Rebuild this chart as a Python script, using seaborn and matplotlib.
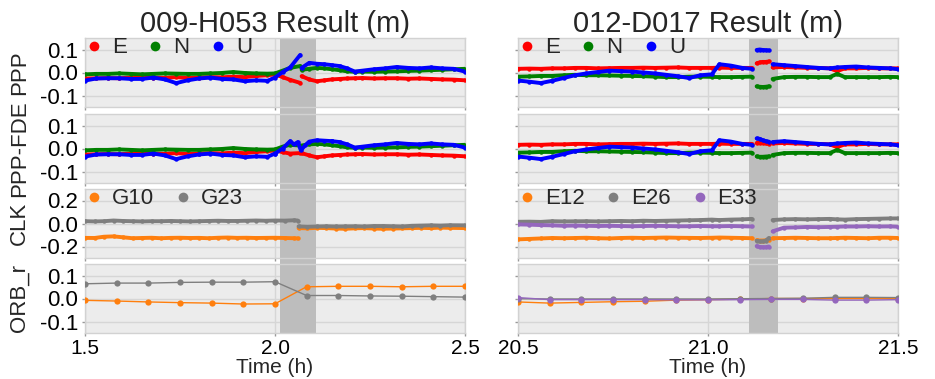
import numpy as np
import pandas as pd
import matplotlib
matplotlib.use("Agg")
import matplotlib.pyplot as plt
import seaborn as sns
from matplotlib.lines import Line2D

# ---------------- data ----------------
titles = ["009-H053 Result (m)", "012-D017 Result (m)"]
row_labels = ["PPP", "PPP-FDE", "CLK", "ORB_r"]
fault_spans = [(2.013, 2.108), (21.107, 21.184)]
xlims = [(1.5, 2.5), (20.5, 21.5)]
xticks = [[1.5, 2.0, 2.5], [20.5, 21.0, 21.5]]

# left: station 009-H053
L_T_PRE = [1.50, 1.53, 1.56, 1.59, 1.62, 1.65, 1.68, 1.71, 1.74, 1.77, 1.80,
           1.83, 1.86, 1.89, 1.92, 1.95, 1.98, 2.00, 2.02, 2.04, 2.066]
L_T_POST = [2.07, 2.09, 2.11, 2.13, 2.15, 2.17, 2.19, 2.21, 2.23, 2.26, 2.29,
            2.32, 2.35, 2.38, 2.41, 2.44, 2.47, 2.50]

L_PPP_E_PRE = [-0.026, -0.025, -0.024, -0.025, -0.022, -0.024, -0.022, -0.023, -0.020, -0.024, -0.022,
               -0.020, -0.021, -0.018, -0.020, -0.015, -0.012, -0.008, -0.020, -0.032, -0.045]
L_PPP_E_POST = [-0.016, -0.030, -0.038, -0.034, -0.030, -0.028, -0.026, -0.025, -0.024, -0.026, -0.025,
                -0.025, -0.027, -0.026, -0.028, -0.030, -0.031, -0.034]
L_PPP_N_PRE = [-0.008, -0.006, -0.006, -0.004, -0.006, -0.008, -0.006, -0.004, -0.005, -0.006, -0.006,
               -0.004, -0.002, 0.002, -0.002, -0.004, -0.005, -0.004, 0.008, 0.020, 0.028]
L_PPP_N_POST = [0.012, 0.016, 0.020, 0.018, 0.014, 0.010, 0.005, 0.003, 0.004, 0.003, 0.004,
                0.005, 0.007, 0.008, 0.010, 0.012, 0.014, 0.016]
L_PPP_U_PRE = [-0.035, -0.026, -0.025, -0.025, -0.028, -0.028, -0.022, -0.030, -0.046, -0.034, -0.026,
               -0.022, -0.028, -0.030, -0.038, -0.034, -0.036, -0.022, 0.002, 0.022, 0.076]
L_PPP_U_POST = [0.020, 0.042, 0.038, 0.036, 0.032, 0.028, 0.018, 0.004, 0.008, 0.014, 0.018,
                0.024, 0.020, 0.018, 0.022, 0.018, 0.016, 0.004]

L_FDE_E_PRE = L_PPP_E_PRE[:18] + [-0.016, -0.022, -0.020]
L_FDE_E_POST = [-0.020, -0.030, -0.038] + L_PPP_E_POST[3:]
L_FDE_N_PRE = L_PPP_N_PRE[:18] + [0.008, 0.016, 0.013]
L_FDE_N_POST = [0.013, 0.018] + L_PPP_N_POST[2:]
L_FDE_U_T = [2.00, 2.02, 2.04, 2.05, 2.06, 2.068, 2.08, 2.09, 2.11, 2.13, 2.15]
L_FDE_U_MID = [-0.022, 0.000, 0.032, 0.018, 0.028, -0.008, 0.015, 0.030, 0.036, 0.034, 0.032]

L_CLK_T_PRE = [1.500, 1.525, 1.550, 1.575, 1.600, 1.625, 1.650, 1.675, 1.700, 1.725, 1.750, 1.775,
               1.800, 1.825, 1.850, 1.875, 1.900, 1.925, 1.950, 1.975, 2.000, 2.025, 2.050, 2.060]
L_CLK_T_POST = [2.062, 2.085, 2.110, 2.135, 2.160, 2.185, 2.210, 2.235, 2.260, 2.285, 2.310,
                2.335, 2.360, 2.385, 2.410, 2.435, 2.460, 2.500]
G23_PRE = [0.020, 0.018, 0.020, 0.026, 0.022, 0.020, 0.018, 0.020, 0.020, 0.022, 0.020, 0.018,
           0.020, 0.022, 0.024, 0.022, 0.022, 0.024, 0.026, 0.024, 0.026, 0.025, 0.028, 0.026]
G10_PRE = [-0.125, -0.126, -0.115, -0.112, -0.120, -0.128, -0.126, -0.124, -0.128, -0.125, -0.124, -0.126,
           -0.125, -0.128, -0.124, -0.122, -0.125, -0.124, -0.126, -0.125, -0.124, -0.126, -0.128, -0.130]
G23_POST = [-0.025, -0.028, -0.026, -0.024, -0.026, -0.025, -0.024, -0.026, -0.022, -0.022, -0.024,
            -0.026, -0.020, -0.018, -0.016, -0.018, -0.015, -0.016]
G10_POST = [-0.040, -0.042, -0.038, -0.040, -0.044, -0.046, -0.042, -0.040, -0.044, -0.046, -0.044,
            -0.042, -0.040, -0.038, -0.040, -0.036, -0.038, -0.040]

L_ORB_T = [1.5, 1.583, 1.667, 1.75, 1.833, 1.917, 2.0, 2.083, 2.167, 2.25, 2.333, 2.417, 2.5]
G10_ORB = [-0.008, -0.011, -0.015, -0.018, -0.020, -0.024, -0.023, 0.051, 0.053, 0.053, 0.051, 0.053, 0.053]
G23_ORB = [0.064, 0.067, 0.067, 0.070, 0.071, 0.071, 0.073, 0.013, 0.013, 0.011, 0.010, 0.008, 0.006]

# right: station 012-D017
R_T_PRE = [20.50, 20.53, 20.56, 20.59, 20.62, 20.65, 20.68, 20.71, 20.74, 20.77, 20.80,
           20.83, 20.86, 20.89, 20.92, 20.95, 20.98, 21.01, 21.03, 21.06, 21.09, 21.115]
R_T_MID = [21.128, 21.136, 21.144, 21.152, 21.160]
R_T_POST = [21.17, 21.20, 21.23, 21.26, 21.29, 21.32, 21.34, 21.36, 21.39, 21.42, 21.45, 21.48, 21.50]

R_PPP_E_PRE = [0.016, 0.017, 0.016, 0.018, 0.018, 0.020, 0.020, 0.018, 0.019, 0.020, 0.020,
               0.021, 0.020, 0.021, 0.022, 0.020, 0.020, 0.020, 0.021, 0.020, 0.020, 0.020]
R_PPP_E_MID = [0.040, 0.044, 0.046, 0.046, 0.048]
R_PPP_E_POST = [0.022, 0.024, 0.022, 0.020, 0.020, 0.018, 0.006, 0.018, 0.018, 0.020, 0.018, 0.018, 0.018]
R_PPP_N_PRE = [-0.018, -0.017, -0.015, -0.015, -0.012, -0.010, -0.012, -0.012, -0.013, -0.014, -0.015,
               -0.016, -0.018, -0.020, -0.020, -0.018, -0.018, -0.019, -0.020, -0.020, -0.019, -0.018]
R_PPP_N_MID = [-0.060, -0.062, -0.063, -0.062, -0.060]
R_PPP_N_POST = [-0.028, -0.020, -0.019, -0.019, -0.020, -0.020, -0.006, -0.020, -0.020, -0.020, -0.020, -0.019, -0.020]
R_PPP_U_PRE = [-0.035, -0.040, -0.046, -0.036, -0.024, -0.012, -0.004, 0.002, 0.008, 0.006, 0.004,
               0.000, -0.004, -0.010, -0.016, -0.024, -0.012, -0.008, 0.036, 0.030, 0.020, 0.016]
R_PPP_U_MID = [0.098, 0.100, 0.098, 0.097, 0.096]
R_PPP_U_POST = [0.036, 0.032, 0.028, 0.024, 0.020, 0.018, 0.022, 0.024, 0.026, 0.022, 0.020, 0.018, 0.014]

R_FDE_E_MID = [0.024, 0.026, 0.024, 0.022, 0.020]
R_FDE_N_MID = [-0.034, -0.036, -0.036, -0.035, -0.034]
R_FDE_U_MID = [0.044, 0.042, 0.036, 0.032, 0.030]
R_FDE_U_POST = [0.028] + R_PPP_U_POST[1:]

E26_PRE = [0.015, 0.016, 0.014, 0.020, 0.018, 0.019, 0.020, 0.018, 0.020, 0.022, 0.020,
           0.024, 0.022, 0.024, 0.026, 0.028, 0.030, 0.034, 0.030, 0.034, 0.036, 0.040]
E26_MID = [-0.150, -0.156, -0.156, -0.150, -0.126]
E26_POST = [0.030, 0.036, 0.038, 0.036, 0.038, 0.040, 0.036, 0.034, 0.038, 0.040, 0.042, 0.044, 0.044]
E33_PRE = [-0.008, -0.010, -0.014, -0.016, -0.020, -0.018, -0.020, -0.022, -0.020, -0.022, -0.024,
           -0.022, -0.020, -0.022, -0.024, -0.024, -0.022, -0.024, -0.024, -0.022, -0.024, -0.026]
E33_MID = [-0.196, -0.204, -0.206, -0.206, -0.200]
E33_POST = [-0.068, -0.036, -0.034, -0.030, -0.032, -0.030, -0.028, -0.026, -0.026, -0.024, -0.026, -0.025, -0.028]
E12_PRE = [-0.138, -0.134, -0.130, -0.126, -0.128, -0.126, -0.124, -0.128, -0.130, -0.126, -0.124,
           -0.126, -0.124, -0.122, -0.124, -0.125, -0.126, -0.124, -0.122, -0.124, -0.126, -0.128]
E12_MID = [-0.146, -0.148, -0.148, -0.146, -0.140]
E12_POST = [-0.128, -0.126, -0.124, -0.126, -0.128, -0.128, -0.126, -0.124, -0.126, -0.128, -0.124, -0.124, -0.126]

R_ORB_T = [20.5, 20.583, 20.667, 20.75, 20.833, 20.917, 21.0, 21.083, 21.167, 21.25, 21.333, 21.417, 21.5]
E12_ORB = [-0.015, -0.020, -0.017, -0.014, -0.012, -0.007, -0.005, -0.003, 0.000, 0.000, 0.000, 0.000, 0.000]
E26_ORB = [-0.001, -0.002, -0.002, -0.002, -0.002, -0.002, -0.002, -0.001, 0.000, 0.001, 0.005, 0.005, 0.004]
E33_ORB = [0.004, -0.005, -0.005, -0.005, -0.005, -0.006, -0.006, -0.005, -0.004, -0.004, -0.007, -0.007, -0.005]

COL = {'E': 'red', 'N': 'green', 'U': 'blue',
       'orange': '#ff7f0e', 'gray': '#7f7f7f', 'purple': '#9467bd'}

# ---------------- style ----------------
sns.set_theme(style="darkgrid", rc={
    'axes.facecolor': '#ececec', 'axes.edgecolor': '#d2d2d2', 'axes.linewidth': 1.0,
    'grid.color': '#d6d6d6', 'grid.linewidth': 1.0,
    'xtick.color': '#999999', 'ytick.color': '#999999',
    'xtick.labelcolor': 'black', 'ytick.labelcolor': 'black',
})
plt.rcParams['font.family'] = ['Liberation Sans', 'DejaVu Sans']
FS = 16
FS_X = 15

fig = plt.figure(figsize=(9.35, 3.79), dpi=100)
col_x0 = [85 / 935, 518 / 935]
col_w = 380 / 935
row_top = [38, 114, 189, 264]
row_h = 69

ylims = [(-0.15, 0.15), (-0.15, 0.15), (-0.3, 0.3), (-0.15, 0.15)]
yticks = [[-0.1, 0.0, 0.1], [-0.1, 0.0, 0.1], [-0.2, 0.0, 0.2], [-0.1, 0.0, 0.1]]

axes = [[None] * 4 for _ in range(2)]
for c in range(2):
    for r in range(4):
        ax = fig.add_axes([col_x0[c], 1 - (row_top[r] + row_h) / 379, col_w, row_h / 379])
        axes[c][r] = ax


def dense(ax, t, y, color):
    df = pd.DataFrame({'t': t, 'y': y})
    sns.lineplot(data=df, x='t', y='y', ax=ax, color=color, lw=2.8, marker='o',
                 markersize=3.2, markeredgewidth=0, estimator=None, sort=False, zorder=3)


def orb(ax, t, y, color):
    df = pd.DataFrame({'t': t, 'y': y})
    sns.lineplot(data=df, x='t', y='y', ax=ax, color=color, lw=1.0, marker='o',
                 markersize=4.5, markeredgewidth=0, estimator=None, sort=False, zorder=3)


# left column
a = axes[0]
for t, ys in [(L_T_PRE, [L_PPP_E_PRE, L_PPP_N_PRE, L_PPP_U_PRE]),
              (L_T_POST, [L_PPP_E_POST, L_PPP_N_POST, L_PPP_U_POST])]:
    for y, k in zip(ys, 'ENU'):
        dense(a[0], t, y, COL[k])
dense(a[1], L_T_PRE, L_FDE_E_PRE, COL['E'])
dense(a[1], L_T_POST, L_FDE_E_POST, COL['E'])
dense(a[1], L_T_PRE, L_FDE_N_PRE, COL['N'])
dense(a[1], L_T_POST, L_FDE_N_POST, COL['N'])
dense(a[1], L_T_PRE[:18], L_PPP_U_PRE[:18], COL['U'])
dense(a[1], L_FDE_U_T, L_FDE_U_MID, COL['U'])
dense(a[1], L_T_POST[4:], L_PPP_U_POST[4:], COL['U'])
dense(a[2], L_CLK_T_PRE, G10_PRE, COL['orange'])
dense(a[2], L_CLK_T_POST, G10_POST, COL['orange'])
dense(a[2], L_CLK_T_PRE, G23_PRE, COL['gray'])
dense(a[2], L_CLK_T_POST, G23_POST, COL['gray'])
orb(a[3], L_ORB_T, G10_ORB, COL['orange'])
orb(a[3], L_ORB_T, G23_ORB, COL['gray'])

# right column
a = axes[1]
segs_ppp = [(R_T_PRE, [R_PPP_E_PRE, R_PPP_N_PRE, R_PPP_U_PRE]),
            (R_T_MID, [R_PPP_E_MID, R_PPP_N_MID, R_PPP_U_MID]),
            (R_T_POST, [R_PPP_E_POST, R_PPP_N_POST, R_PPP_U_POST])]
segs_fde = [(R_T_PRE, [R_PPP_E_PRE, R_PPP_N_PRE, R_PPP_U_PRE]),
            (R_T_MID, [R_FDE_E_MID, R_FDE_N_MID, R_FDE_U_MID]),
            (R_T_POST, [R_PPP_E_POST, R_PPP_N_POST, R_FDE_U_POST])]
for ax, segs in [(a[0], segs_ppp), (a[1], segs_fde)]:
    for t, ys in segs:
        for y, k in zip(ys, 'ENU'):
            dense(ax, t, y, COL[k])
for t, ys in [(R_T_PRE, [E12_PRE, E26_PRE, E33_PRE]),
              (R_T_MID, [E12_MID, E26_MID, E33_MID]),
              (R_T_POST, [E12_POST, E26_POST, E33_POST])]:
    for y, k in zip(ys, ['orange', 'gray', 'purple']):
        dense(a[2], t, y, COL[k])
orb(a[3], R_ORB_T, E12_ORB, COL['orange'])
orb(a[3], R_ORB_T, E26_ORB, COL['gray'])
orb(a[3], R_ORB_T, E33_ORB, COL['purple'])

# cosmetics
for c in range(2):
    for r in range(4):
        ax = axes[c][r]
        ax.set_xlim(*xlims[c])
        ax.set_ylim(*ylims[r])
        ax.set_yticks(yticks[r])
        ax.set_xticks(xticks[c])
        ax.set_xlabel("")
        ax.set_ylabel("")
        ax.tick_params(axis='both', length=2, width=1, pad=3, labelsize=FS, bottom=True, left=True)
        ax.tick_params(axis='x', pad=2, labelsize=FS_X)
        ax.yaxis.set_major_formatter(matplotlib.ticker.FormatStrFormatter('%.1f'))
        if r < 3:
            ax.tick_params(labelbottom=False)
        if c == 1:
            ax.tick_params(labelleft=False)
        else:
            ax.set_ylabel(row_labels[r], fontsize=FS)
            ax.yaxis.set_label_coords(-0.145, 0.5)
        ymin = -0.11 if r < 3 else 0
        ax.axvspan(*fault_spans[c], ymin=ymin, ymax=1, color='#bdbdbd', lw=0,
                   clip_on=False, zorder=1.5)
    axes[c][0].set_title(titles[c], fontsize=21, pad=4)
    axes[c][3].set_xlabel("Time (h)", fontsize=FS_X, labelpad=0)

# legends
def add_legend(ax, labels, colors):
    handles = [Line2D([], [], ls='none', marker='o', markersize=7, markeredgewidth=0, color=cc)
               for cc in colors]
    ax.legend(handles, labels, loc='upper left', bbox_to_anchor=(0.0, 1.04), ncol=len(labels),
              frameon=False, fontsize=FS, handlelength=0.6, handletextpad=0.5,
              columnspacing=1.0, borderaxespad=0, borderpad=0.1)

for c in range(2):
    add_legend(axes[c][0], ['E', 'N', 'U'], [COL['E'], COL['N'], COL['U']])
add_legend(axes[0][2], ['G10', 'G23'], [COL['orange'], COL['gray']])
add_legend(axes[1][2], ['E12', 'E26', 'E33'], [COL['orange'], COL['gray'], COL['purple']])

fig.savefig("out.png", dpi=100)
